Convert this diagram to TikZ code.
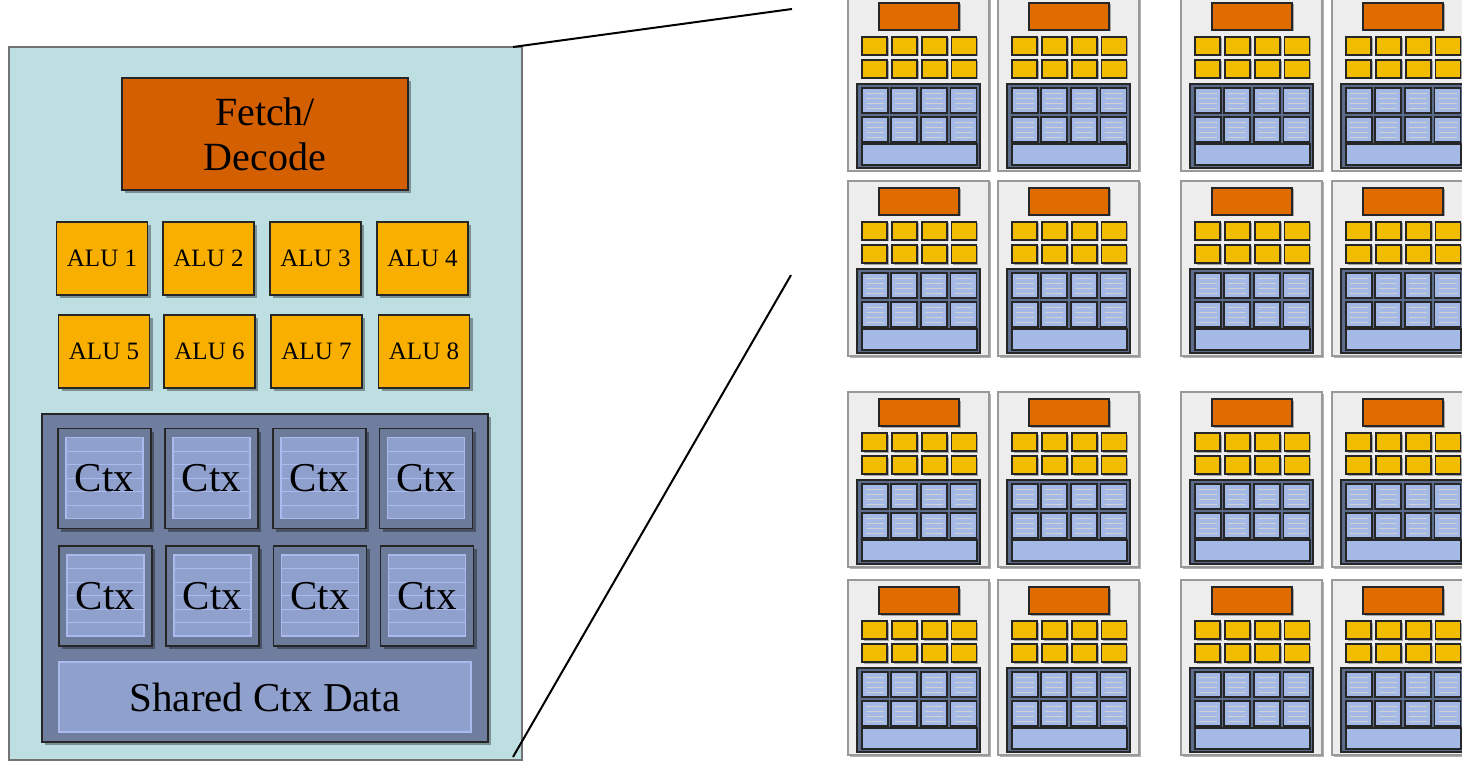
\documentclass[tikz,border=0pt]{standalone}
\usepackage{fontspec}
\setmainfont{Liberation Serif}
\usetikzlibrary{shadows,calc}
\definecolor{bigbg}{HTML}{BEDFE2}
\definecolor{fetchc}{HTML}{D35F00}
\definecolor{aluc}{HTML}{F9AF00}
\definecolor{contc}{HTML}{6F7E9E}
\definecolor{ctxc}{HTML}{6C7B9A}
\definecolor{ctxin}{HTML}{8FA0CD}
\definecolor{ctxln}{HTML}{AABAEE}
\definecolor{sorange}{HTML}{E06C00}
\definecolor{salu}{HTML}{F2BC00}
\definecolor{scont}{HTML}{5C6C8C}
\definecolor{sctx}{HTML}{A5B9E6}
\definecolor{sbg}{HTML}{EDEDED}
\tikzset{
  every node/.style={inner sep=0pt, outer sep=0pt},
  shad/.style={drop shadow={shadow xshift=3pt, shadow yshift=-3pt, opacity=0.35, fill=black}},
  sshad/.style={drop shadow={shadow xshift=1.5pt, shadow yshift=-1.5pt, opacity=0.3, fill=black}},
  bigcore/.style={draw=black!55, fill=bigbg, line width=1.5pt},
  fetchbox/.style={draw=black!85, fill=fetchc, line width=1.5pt, shad, align=center,
    font=\fontsize{40}{49}\selectfont},
  alubox/.style={draw=black!85, fill=aluc, line width=1.5pt, shad,
    minimum width=91pt, minimum height=73pt, font=\fontsize{25}{29}\selectfont},
  contbox/.style={draw=black!85, fill=contc, line width=1.5pt, shad},
  ctxbox/.style={draw=black!85, fill=ctxc, line width=1.5pt, shad,
    minimum width=93pt, minimum height=100pt, font=\fontsize{41}{49}\selectfont,
    path picture={
      \fill[ctxin] ([xshift=8pt,yshift=10pt]path picture bounding box.south west)
        rectangle ([xshift=-8pt,yshift=-9pt]path picture bounding box.north east);
      \foreach \k in {1,...,5}
        \draw[ctxln, line width=1pt] ([xshift=8pt,yshift={-9pt-\k*13.5pt}]path picture bounding box.north west)
          -- ([xshift=-8pt,yshift={-9pt-\k*13.5pt}]path picture bounding box.north east);
      \draw[ctxln, line width=1.2pt] ([xshift=8pt,yshift=10pt]path picture bounding box.south west)
        rectangle ([xshift=-8pt,yshift=-9pt]path picture bounding box.north east);
    }},
  sharedbox/.style={draw=ctxln, fill=ctxin, line width=1.5pt,
    minimum width=412pt, minimum height=70pt, font=\fontsize{41}{49}\selectfont},
  sbox/.style={draw=black!40, fill=sbg, line width=1.2pt, sshad, minimum width=141pt, minimum height=175pt},
  sfetch/.style={draw=black!85, fill=sorange, line width=1.2pt, sshad, minimum width=80pt, minimum height=27pt},
  salub/.style={draw=black!85, fill=salu, line width=1.2pt, sshad, minimum width=25pt, minimum height=18pt},
  scontb/.style={draw=black!85, fill=scont, line width=1.2pt, minimum width=123pt, minimum height=84pt},
  sctxb/.style={draw=black!85, fill=sctx, line width=1.2pt, minimum width=26pt, minimum height=25pt,
    path picture={
      \foreach \k in {1,...,4}
        \draw[black!18, line width=0.6pt] ([xshift=4pt,yshift={-\k*5pt}]path picture bounding box.north west)
          -- ([xshift=-4pt,yshift={-\k*5pt}]path picture bounding box.north east);
    }},
  ssh/.style={draw=black!85, fill=sctx, line width=1.2pt, minimum width=115pt, minimum height=21pt},
  link/.style={draw=black, line width=2pt},
  core/.pic={
    \node[sbox] (-box) at (70.5,87.5) {};
    \node[sfetch] (-fd) at (71,20.5) {};
    \foreach \xx [count=\i] in {26.5,56.5,86.5,116}{
      \node[salub] (-a\i) at (\xx,50) {};
      \node[salub] (-b\i) at (\xx,73) {};
    }
    \node[scontb] (-cont) at (70.5,130) {};
    \foreach \xx [count=\i] in {27,56,86,115.5}{
      \node[sctxb] (-c\i) at (\xx,104.5) {};
      \node[sctxb] (-d\i) at (\xx,133.5) {};
    }
    \node[ssh] (-sh) at (71.5,158.5) {};
  }
}
\begin{document}
\begin{tikzpicture}[x=1pt,y=-1pt]
\useasboundingbox (0,0) rectangle (1462,762);
\fill[white] (0,0) rectangle (1462,762);

% big core
\node[bigcore, minimum width=513pt, minimum height=713pt] (big) at (265.5,403.5) {};
\node[fetchbox, minimum width=286pt, minimum height=112pt] (fd) at (265,134) {Fetch/\\[-4pt]Decode};
\node[alubox] (alu1) at (102,258.5) {ALU 1};
\node[alubox] (alu2) at (208.5,258.5) {ALU 2};
\node[alubox] (alu3) at (315.5,258.5) {ALU 3};
\node[alubox] (alu4) at (422.5,258.5) {ALU 4};
\node[alubox] (alu5) at (104,351.5) {ALU 5};
\node[alubox] (alu6) at (209.5,351.5) {ALU 6};
\node[alubox] (alu7) at (316.5,351.5) {ALU 7};
\node[alubox] (alu8) at (424,351.5) {ALU 8};
\node[contbox, minimum width=446pt, minimum height=328pt] (cont) at (265,578) {};
\node[ctxbox] (ctx1) at (104.5,478.5) {Ctx};
\node[ctxbox] (ctx2) at (211.5,478.5) {Ctx};
\node[ctxbox] (ctx3) at (319.5,478.5) {Ctx};
\node[ctxbox] (ctx4) at (426,478.5) {Ctx};
\node[ctxbox] (ctx5) at (105.5,596) {Ctx};
\node[ctxbox] (ctx6) at (212.5,596) {Ctx};
\node[ctxbox] (ctx7) at (320,596) {Ctx};
\node[ctxbox] (ctx8) at (427,596) {Ctx};
\node[sharedbox] (shared) at (265,697) {Shared Ctx Data};

% small cores
\begin{scope}
\clip (0,0) rectangle (1462,762);
\foreach \cx [count=\ci] in {848,998,1181,1332}{
  \foreach \cy [count=\ri] in {-4,181,392,580}{
    \pic (c\ci\ri) at (\cx,\cy) {core};
  }
}
\end{scope}

% connectors
\coordinate (z1) at (792,9);
\coordinate (z2) at (791,275);
\draw[link] ([xshift=-9pt]big.north east) -- (z1);
\draw[link] ([xshift=-9pt,yshift=3pt]big.south east) -- (z2);
\end{tikzpicture}
\end{document}
